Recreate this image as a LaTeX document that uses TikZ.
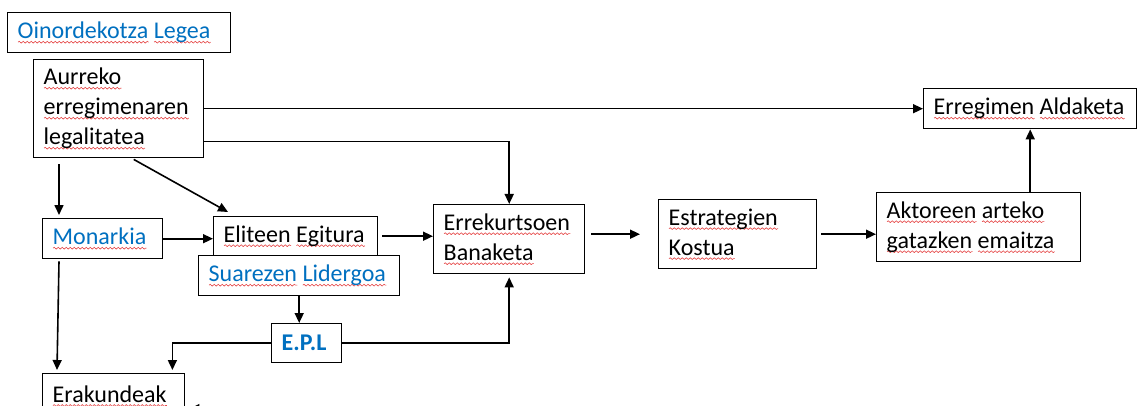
\documentclass[tikz,border=0pt]{standalone}
\usepackage{fontspec}
\setmainfont{Carlito}
\usetikzlibrary{arrows.meta,calc,decorations.pathmorphing}

\definecolor{linkblue}{RGB}{0,112,192}
\definecolor{spellred}{RGB}{230,70,70}

% spell-check wave under a word
\newlength\wavelen
\newcommand{\sq}[1]{\leavevmode\settowidth{\wavelen}{#1}\rlap{\tikz[baseline=0pt]{\draw[spellred, fill=none, line width=0.6pt,
    decorate, decoration={snake,amplitude=0.9pt,segment length=4pt}] (0pt,-3.5pt) -- (\wavelen,-3.5pt);}}#1}

\tikzset{
  box/.style={draw, line width=1.4pt, anchor=north west, align=flush left,
    inner xsep=10pt, inner ysep=0pt, fill=white,
    font=\fontsize{24}{30}\selectfont},
  link/.style={text=linkblue},
  flow/.style={line width=1.6pt, -{Triangle[length=10pt,width=9pt]}}
}

\begin{document}
\begin{tikzpicture}[x=1pt, y=-1pt]
  % page size of the reference
  \useasboundingbox (0,0) rectangle (1137,406);

  % Left column
  \node[box, link, minimum width=223pt, minimum height=40pt, text width=203pt] (oin) at (7,12) {\sq{Oinordekotza} \sq{Legea}};
  \node[box, minimum width=170pt, minimum height=98pt, text width=150pt] (aur) at (33,59) {\sq{Aurreko}\\\sq{erregimenaren}\\\sq{legalitatea}};
  \node[box, link, minimum width=120pt, minimum height=40pt, text width=100pt] (mon) at (42,218) {\sq{Monarkia}};
  \node[box, minimum width=142pt, minimum height=70pt, text width=122pt, text depth=30pt] (erk) at (42,373) {\sq{Erakundeak}};

  % Elites and leadership
  \node[box, minimum width=164pt, minimum height=39pt, text width=144pt] (eli) at (213,216) {\sq{Eliteen} \sq{Egitura}};
  \node[box, link, minimum width=201pt, minimum height=40pt, text width=181pt] (sua) at (198,255) {\sq{Suarezen} \sq{Lidergoa}};
  \node[box, link, minimum width=70pt, minimum height=39pt, text width=50pt, font=\fontsize{24}{30}\selectfont\bfseries] (epl) at (271,323) {E.P.L};

  % Main chain
  \node[box, minimum width=151pt, minimum height=69pt, text width=131pt] (err) at (433,204) {\sq{Errekurtsoen}\\\sq{Banaketa}};
  \node[box, minimum width=158pt, minimum height=69pt, text width=138pt] (est) at (658,199) {\sq{Estrategien}\\\sq{Kostua}};
  \node[box, minimum width=204pt, minimum height=69pt, text width=184pt] (akt) at (876,192) {\sq{Aktoreen} \sq{arteko}\\\sq{gatazken} \sq{emaitza}};
  \node[box, minimum width=213pt, minimum height=40pt, text width=193pt] (ald) at (923,88) {\sq{Erregimen} \sq{Aldaketa}};

  % free end of the cut-off arrow at the bottom
  \coordinate (erkin) at (300,408);

  % Connectors
  \draw[flow] (aur.east) -- (aur.east -| ald.west);
  \draw[flow] ([yshift=17pt]aur.south east) -| (err.north);
  \draw[flow] ([xshift=26pt,yshift=-6pt]aur.south west) -- ([xshift=17pt,yshift=3pt]mon.north west);
  \draw[flow] ([xshift=15pt,yshift=-1pt]aur.south) -- ([xshift=15pt,yshift=4pt]eli.north west);
  \draw[flow] (mon.east) -- (mon.east -| eli.west);
  \draw[flow, shorten <=4pt] (eli.east) -- (eli.east -| err.west);
  \draw[flow, shorten <=6pt, shorten >=18pt] (est.west -| err.east) -- (est.west);
  \draw[flow, shorten <=4pt] (est.east) -- (est.east -| akt.west);
  \draw[flow] (akt.north -| ald.south) -- (ald.south);
  \draw[flow] (sua.south) -- (sua.south |- epl.north);
  \draw[flow] (epl.east) -| ([yshift=-3pt]err.south);
  \draw[flow] (epl.west) -| ([xshift=-13pt,yshift=3pt]erk.north east);
  \draw[flow] ([xshift=17pt,yshift=-2pt]mon.south west) -- ([xshift=15pt,yshift=3pt]erk.north west);
  \draw[flow] (erkin) -- ([xshift=4pt]erk.east);
\end{tikzpicture}
\end{document}
